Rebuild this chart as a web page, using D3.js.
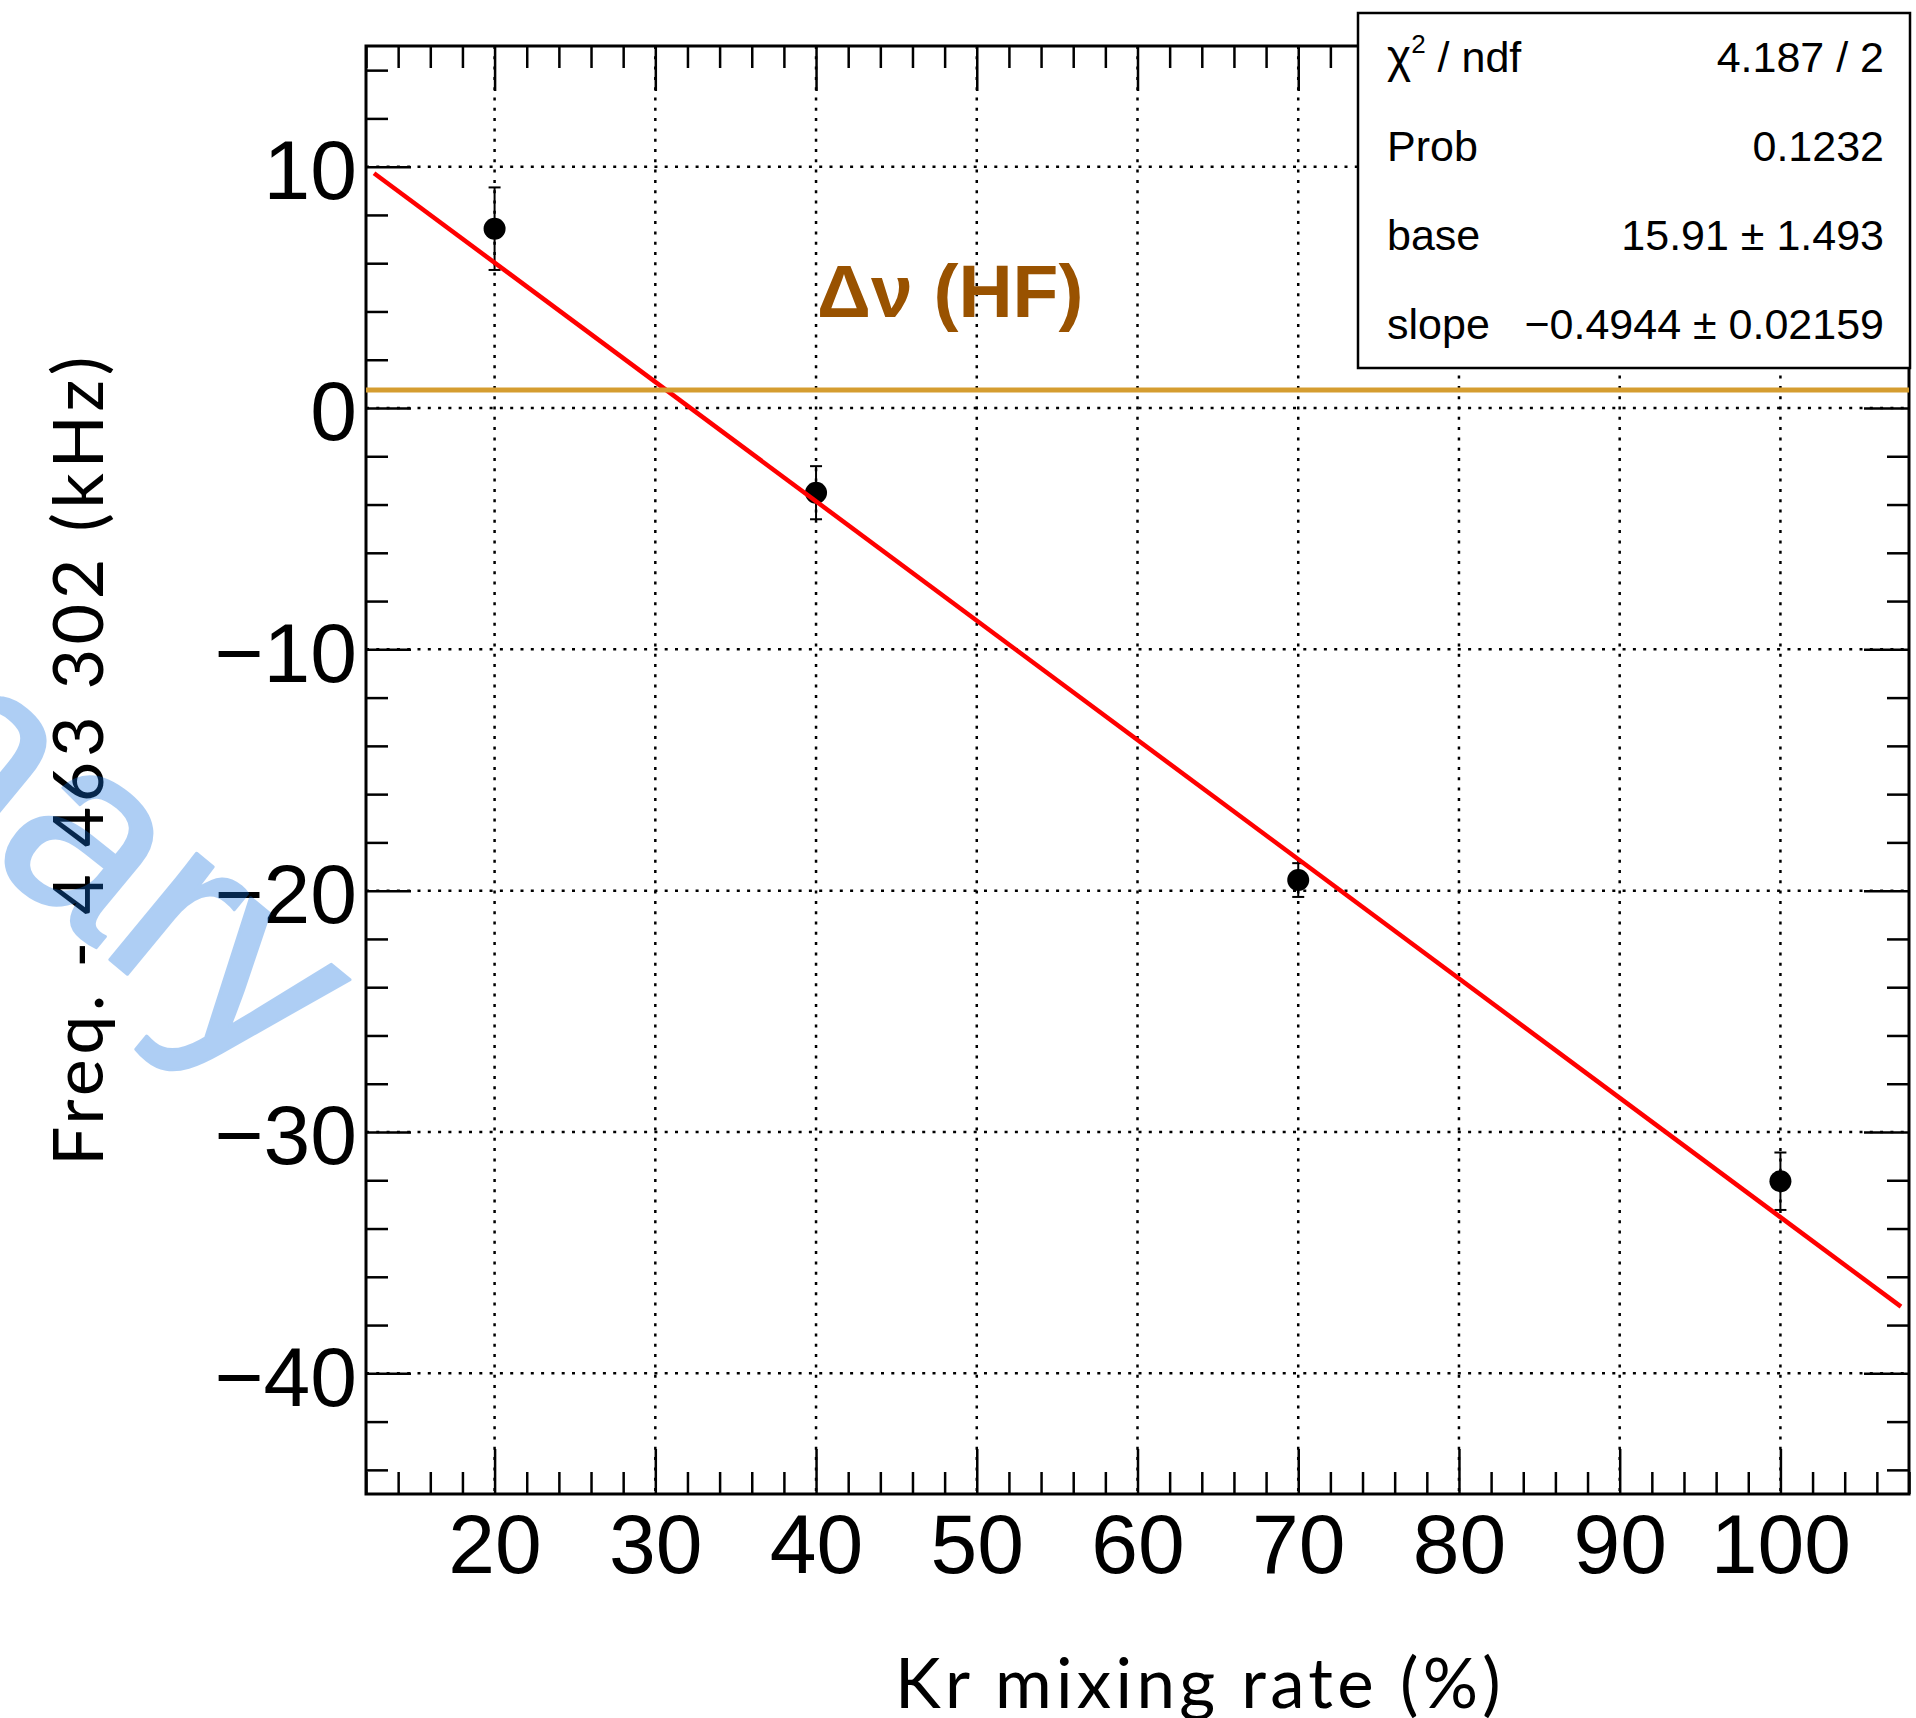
<!DOCTYPE html>
<html>
<head>
<meta charset="utf-8">
<script src="https://cdn.jsdelivr.net/npm/d3@7"></script>
<style>
  html, body { margin: 0; padding: 0; background: #fff; }
  svg { display: block; }
</style>
</head>
<body>
<svg id="chart" width="1916" height="1718"></svg>
<script>
// ---------------- data ----------------
const krRate   = [20, 40, 70, 100];
const freqVal  = [7.43, -3.51, -19.56, -32.04];
const freqErr  = [1.71, 1.10, 0.70, 1.19];
const fitBase  = 15.91;
const fitSlope = -0.4944;
const fitRange = [12.5, 107.5];
const hfValue  = 0.75;
const xMajorTicks = [20, 30, 40, 50, 60, 70, 80, 90, 100];
const yMajorTicks = [-40, -30, -20, -10, 0, 10];
const statLabels = ["χ2 / ndf", "Prob", "base", "slope"];
const statValues = ["4.187 / 2", "0.1232", "15.91 ± 1.493", "−0.4944 ± 0.02159"];
const xTitle = "Kr mixing rate (%)";
const yTitle = "Freq. - 4 463 302 (kHz)";
const hfLabel = "Δν (HF)";
const watermark = "Preliminary";

(function () {
// ---------------- layout ----------------
const L = 366, R = 1909, T = 46, B = 1494;
const x = d3.scaleLinear().domain([12, 108]).range([L, R]);
const y = d3.scaleLinear().domain([-45, 15]).range([B, T]);
const xMinor = d3.range(12, 108.01, 2).filter(v => !xMajorTicks.includes(v));
const yMinor = d3.range(-44, 15.01, 2).filter(v => !yMajorTicks.includes(v));

const svg = d3.select("#chart");
const tickFont = "'Liberation Sans', Arial, Helvetica, sans-serif";
const titleFont = "Lato, 'Open Sans', sans-serif";

// grid
const grid = svg.append("g").attr("stroke", "#000").attr("stroke-width", 2.5)
  .attr("stroke-dasharray", "3,7.3").attr("fill", "none");
grid.selectAll("line.gx").data(xMajorTicks).join("line").attr("class", "gx")
  .attr("x1", d => x(d)).attr("x2", d => x(d)).attr("y1", T).attr("y2", B);
grid.selectAll("line.gy").data(yMajorTicks).join("line").attr("class", "gy")
  .attr("x1", L).attr("x2", R).attr("y1", d => y(d)).attr("y2", d => y(d));

// axes
function styleAxis(g, showLabels) {
  g.select(".domain").remove();
  g.selectAll(".tick line").attr("stroke", "#000").attr("stroke-width", 2.5);
  g.selectAll(".tick text").attr("font-family", tickFont).attr("font-size", 84).attr("fill", "#000");
  if (!showLabels) g.selectAll(".tick text").remove();
}
const gBottom = svg.append("g").attr("transform", `translate(0,${B})`)
  .call(d3.axisBottom(x).tickValues(xMajorTicks).tickSize(-45).tickPadding(19).tickFormat(d3.format("d")));
styleAxis(gBottom, true);
const gBottomMinor = svg.append("g").attr("transform", `translate(0,${B})`)
  .call(d3.axisBottom(x).tickValues(xMinor).tickSize(-22).tickFormat(""));
styleAxis(gBottomMinor, false);
const gTop = svg.append("g").attr("transform", `translate(0,${T})`)
  .call(d3.axisTop(x).tickValues(xMajorTicks).tickSize(-45).tickFormat(""));
styleAxis(gTop, false);
const gTopMinor = svg.append("g").attr("transform", `translate(0,${T})`)
  .call(d3.axisTop(x).tickValues(xMinor).tickSize(-22).tickFormat(""));
styleAxis(gTopMinor, false);

const gLeft = svg.append("g").attr("transform", `translate(${L},0)`)
  .call(d3.axisLeft(y).tickValues(yMajorTicks).tickSize(-45).tickPadding(9));
styleAxis(gLeft, true);
gLeft.selectAll(".tick text").attr("dy", "0.38em");
const gLeftMinor = svg.append("g").attr("transform", `translate(${L},0)`)
  .call(d3.axisLeft(y).tickValues(yMinor).tickSize(-22).tickFormat(""));
styleAxis(gLeftMinor, false);
const gRight = svg.append("g").attr("transform", `translate(${R},0)`)
  .call(d3.axisRight(y).tickValues(yMajorTicks).tickSize(-45).tickFormat(""));
styleAxis(gRight, false);
const gRightMinor = svg.append("g").attr("transform", `translate(${R},0)`)
  .call(d3.axisRight(y).tickValues(yMinor).tickSize(-22).tickFormat(""));
styleAxis(gRightMinor, false);

// frame
svg.append("rect").attr("x", L).attr("y", T).attr("width", R - L).attr("height", B - T)
  .attr("fill", "none").attr("stroke", "#000").attr("stroke-width", 3);

// data points
const pts = krRate.map((k, i) => ({ x: k, y: freqVal[i], e: freqErr[i] }));
const pg = svg.append("g");
pg.selectAll("line.eb").data(pts).join("line").attr("class", "eb")
  .attr("x1", d => x(d.x)).attr("x2", d => x(d.x))
  .attr("y1", d => y(d.y + d.e)).attr("y2", d => y(d.y - d.e))
  .attr("stroke", "#000").attr("stroke-width", 2);
pg.selectAll("line.capt").data(pts).join("line").attr("class", "capt")
  .attr("x1", d => x(d.x) - 6).attr("x2", d => x(d.x) + 6)
  .attr("y1", d => y(d.y + d.e)).attr("y2", d => y(d.y + d.e))
  .attr("stroke", "#000").attr("stroke-width", 2);
pg.selectAll("line.capb").data(pts).join("line").attr("class", "capb")
  .attr("x1", d => x(d.x) - 6).attr("x2", d => x(d.x) + 6)
  .attr("y1", d => y(d.y - d.e)).attr("y2", d => y(d.y - d.e))
  .attr("stroke", "#000").attr("stroke-width", 2);
pg.selectAll("circle").data(pts).join("circle")
  .attr("cx", d => x(d.x)).attr("cy", d => y(d.y)).attr("r", 11).attr("fill", "#000");

// fit line
const fitPts = fitRange.map(v => [v, fitBase + fitSlope * v]);
svg.append("path").datum(fitPts)
  .attr("d", d3.line().x(d => x(d[0])).y(d => y(d[1])))
  .attr("stroke", "#ff0000").attr("stroke-width", 4.5).attr("fill", "none");

// HF line
svg.append("line").attr("x1", L).attr("x2", R).attr("y1", y(hfValue)).attr("y2", y(hfValue))
  .attr("stroke", "#d59d30").attr("stroke-width", 5);
svg.append("text").attr("x", x(40) + 1).attr("y", 317)
  .attr("font-family", tickFont).attr("font-weight", "bold").attr("font-size", 75)
  .attr("fill", "#995200").text(hfLabel);

// axis titles
svg.append("text").attr("x", 1200).attr("y", 1708).attr("text-anchor", "middle")
  .attr("font-family", titleFont).attr("font-size", 69).attr("letter-spacing", 4.3)
  .attr("fill", "#000").text(xTitle);
svg.append("text").attr("transform", "translate(103,759) rotate(-90)").attr("text-anchor", "middle")
  .attr("font-family", titleFont).attr("font-size", 70).attr("letter-spacing", 4.5)
  .attr("fill", "#000").text(yTitle);

// stats box
const bx = 1358, by = 13, bw = 552, bh = 355;
const box = svg.append("g");
box.append("rect").attr("x", bx).attr("y", by).attr("width", bw).attr("height", bh)
  .attr("fill", "#fff").attr("stroke", "#000").attr("stroke-width", 2.5);
const rowH = bh / statLabels.length;
statLabels.forEach((lab, i) => {
  const by0 = by + rowH * (i + 0.5) + 15;
  const t = box.append("text").attr("x", 1387).attr("y", by0)
    .attr("font-family", tickFont).attr("font-size", 43).attr("fill", "#000");
  if (lab.startsWith("χ2")) {
    t.append("tspan").attr("font-size", 46).text("χ");
    t.append("tspan").attr("font-size", 26).attr("dy", -19).text("2");
    t.append("tspan").attr("dy", 19).text(lab.slice(2));
  } else {
    t.text(lab);
  }
  box.append("text").attr("x", 1884).attr("y", by0).attr("text-anchor", "end")
    .attr("font-family", tickFont).attr("font-size", 43).attr("fill", "#000")
    .text(statValues[i]);
});

// watermark
svg.append("text").attr("transform", "translate(263,1086) rotate(39.5)")
  .attr("text-anchor", "end").attr("font-family", tickFont).attr("font-size", 260)
  .attr("fill", "rgb(20,115,225)").attr("stroke", "rgb(20,115,225)").attr("stroke-width", 3)
  .attr("stroke-linejoin", "round").attr("opacity", 0.34).text(watermark);
})();
</script>
</body>
</html>
